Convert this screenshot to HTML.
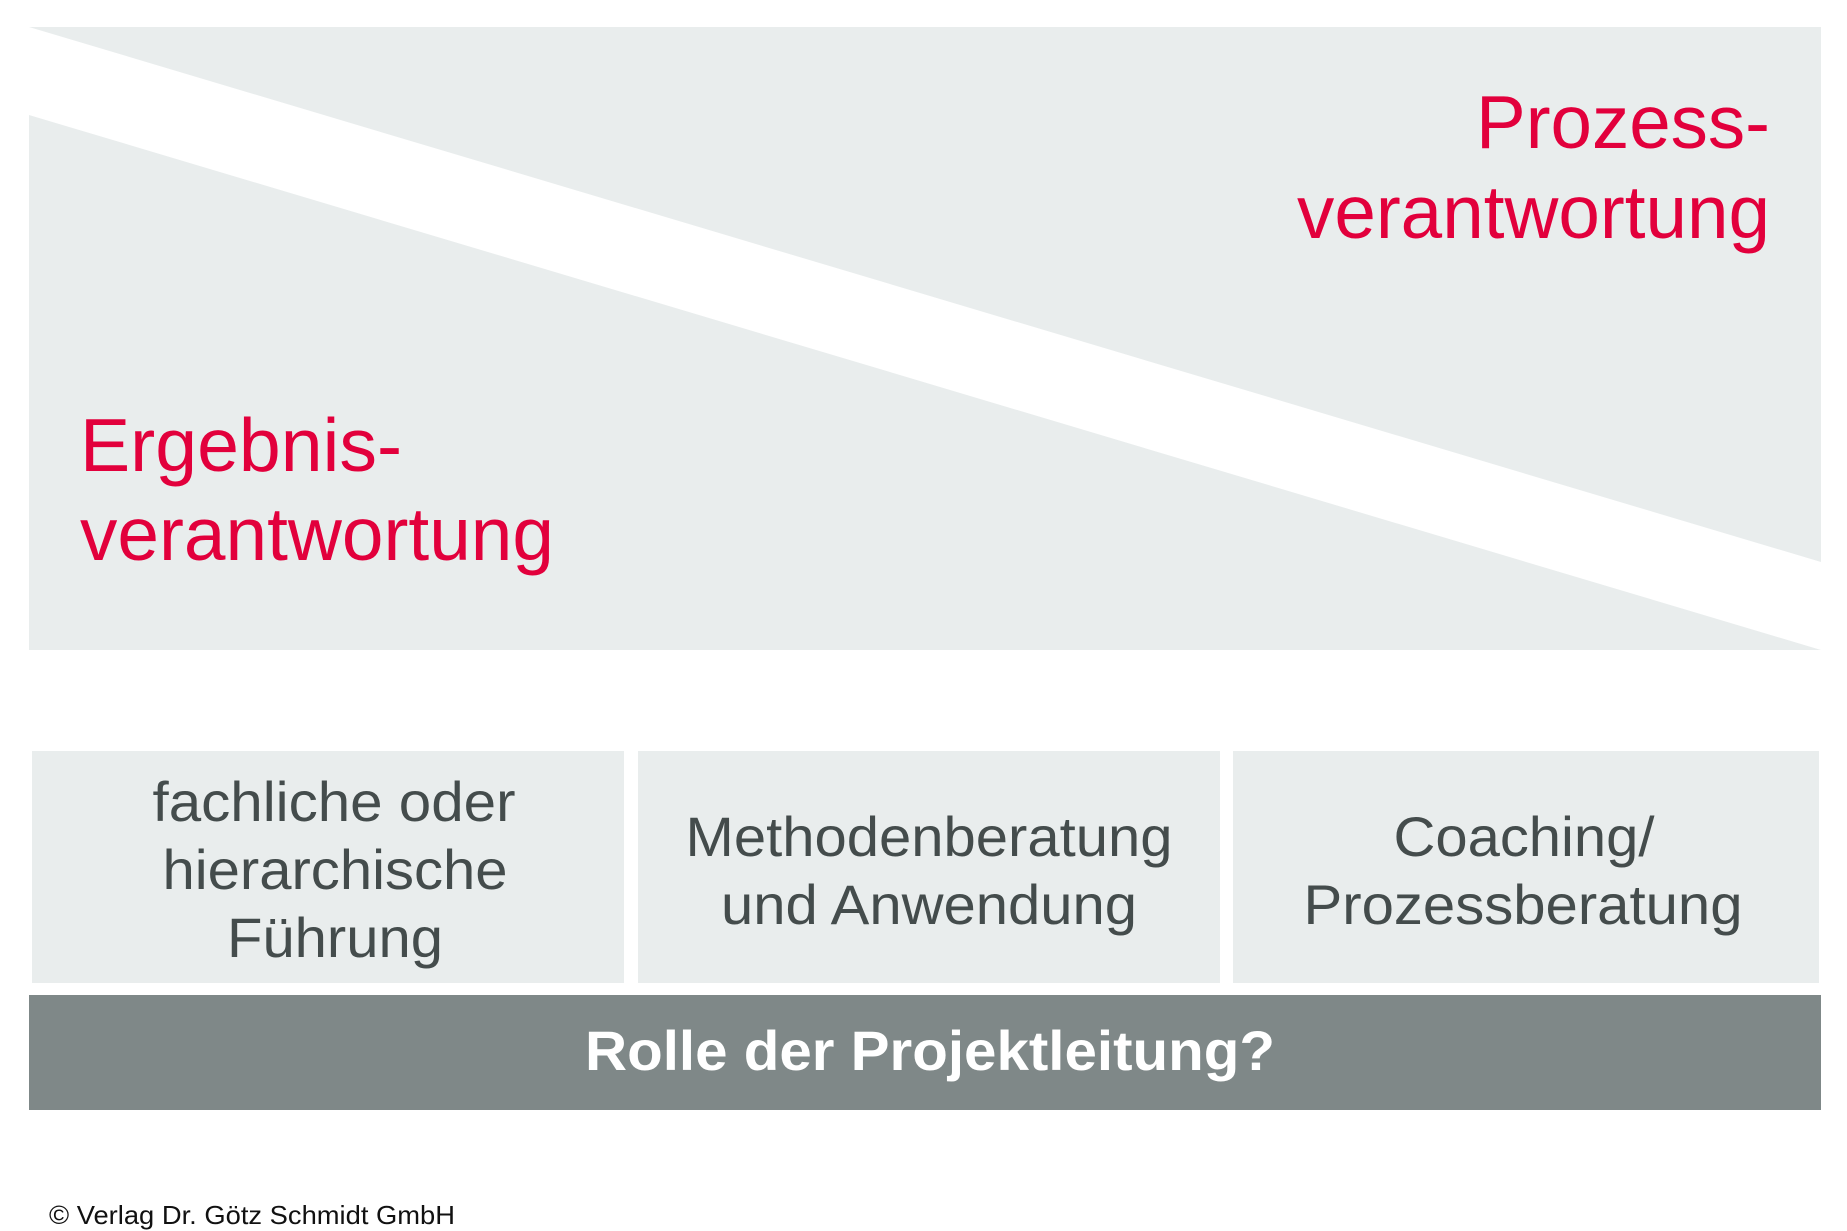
<!DOCTYPE html>
<html><head><meta charset="utf-8"><style>
html,body{margin:0;padding:0;background:#fff;}
svg{display:block;}
text{font-family:"Liberation Sans",Arial,sans-serif;}
</style></head><body>
<svg width="1847" height="1231" viewBox="0 0 1847 1231" xmlns="http://www.w3.org/2000/svg">
<rect x="0" y="0" width="1847" height="1231" fill="#fff"/>
<polygon points="29,27 1821,27 1821,562" fill="#e9eded"/>
<polygon points="29,115 1821,650 29,650" fill="#e9eded"/>
<g fill="#e2003c" font-size="75">
<text x="1770" y="148" text-anchor="end" textLength="294" lengthAdjust="spacingAndGlyphs">Prozess-</text>
<text x="1770" y="238" text-anchor="end" textLength="473" lengthAdjust="spacingAndGlyphs">verantwortung</text>
<text x="80" y="471" textLength="322" lengthAdjust="spacingAndGlyphs">Ergebnis-</text>
<text x="80" y="560" textLength="474" lengthAdjust="spacingAndGlyphs">verantwortung</text>
</g>
<rect x="32" y="751" width="592" height="232" fill="#e9eded"/>
<rect x="638" y="751" width="582" height="232" fill="#e9eded"/>
<rect x="1233" y="751" width="586" height="232" fill="#e9eded"/>
<g fill="#444c4c" font-size="56" text-anchor="middle">
<text x="334" y="821" textLength="363" lengthAdjust="spacingAndGlyphs">fachliche oder</text>
<text x="335" y="889" textLength="345" lengthAdjust="spacingAndGlyphs">hierarchische</text>
<text x="335" y="957" textLength="216" lengthAdjust="spacingAndGlyphs">Führung</text>
<text x="929" y="856" textLength="487" lengthAdjust="spacingAndGlyphs">Methodenberatung</text>
<text x="929" y="924" textLength="416" lengthAdjust="spacingAndGlyphs">und Anwendung</text>
<text x="1524" y="856" textLength="261" lengthAdjust="spacingAndGlyphs">Coaching/</text>
<text x="1523" y="924" textLength="439" lengthAdjust="spacingAndGlyphs">Prozessberatung</text>
</g>
<rect x="29" y="995" width="1792" height="115" fill="#7f8888"/>
<text x="930" y="1070" fill="#fff" font-size="56" font-weight="bold" text-anchor="middle" textLength="690" lengthAdjust="spacingAndGlyphs">Rolle der Projektleitung?</text>
<text x="49" y="1224" fill="#111" font-size="26" textLength="406" lengthAdjust="spacingAndGlyphs">© Verlag Dr. Götz Schmidt GmbH</text>
</svg>
</body></html>
